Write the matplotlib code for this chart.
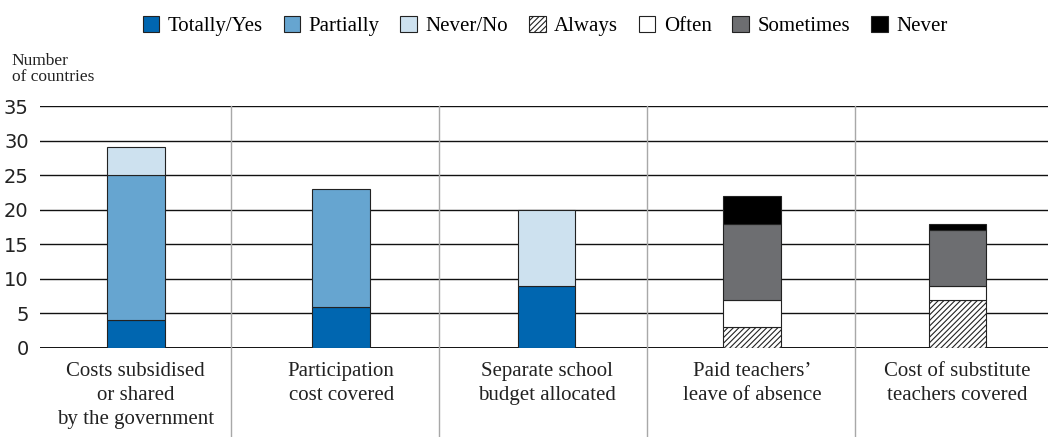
import matplotlib.pyplot as plt
from matplotlib.patches import Patch

categories = ['Costs subsidised\nor shared\nby the government',
              'Participation\ncost covered',
              'Separate school\nbudget allocated',
              "Paid teachers\u2019\nleave of absence",
              'Cost of substitute\nteachers covered']

# yes / partially / no answers (first three items)
totally_yes = [4, 6, 9, 0, 0]
partially = [21, 17, 0, 0, 0]
never_no = [4, 0, 11, 0, 0]
# frequency answers (last two items)
always = [0, 0, 0, 3, 7]
often = [0, 0, 0, 4, 2]
sometimes = [0, 0, 0, 11, 8]
never = [0, 0, 0, 4, 1]

series = [
    ('Totally/Yes', totally_yes, '#0066b0', None),
    ('Partially', partially, '#66a5d0', None),
    ('Never/No', never_no, '#cde1ef', None),
    ('Always', always, 'white', '//////'),
    ('Often', often, 'white', None),
    ('Sometimes', sometimes, '#6d6e71', None),
    ('Never', never, 'black', None),
]

plt.rcParams['hatch.linewidth'] = 0.8
fig = plt.figure(figsize=(10.48, 4.37), dpi=100)
ax = fig.add_axes([0.038, 0.2037, 0.962, 0.5537])

x = [i * 1.0 for i in range(len(categories))]
bottom = [0] * len(categories)
handles = []
for name, vals, col, hatch in series:
    for i, v in enumerate(vals):
        if v > 0:
            ax.bar(x[i], v, 0.28, bottom=bottom[i], color=col, hatch=hatch,
                   edgecolor='#222222', linewidth=0.8, zorder=3)
    bottom = [b + v for b, v in zip(bottom, vals)]
    handles.append(Patch(facecolor=col, hatch=hatch, edgecolor='#222222',
                         linewidth=0.8, label=name))

ax.set_ylim(0, 35)
ax.set_xlim(-0.467, 4.44)
ax.set_yticks(range(0, 36, 5))
for y in range(0, 36, 5):
    ax.axhline(y, color='#111111', lw=1.0 if y else 1.4, zorder=1)
for s in [0.462, 1.474, 2.49, 3.50]:
    ax.axvline(s, ymin=-0.37, ymax=1, color='#a8a8a8', lw=1.0,
               clip_on=False, zorder=1)

for sp in ax.spines.values():
    sp.set_visible(False)
ax.tick_params(axis='y', length=0, pad=8, labelsize=14, labelcolor='#222222')
ax.tick_params(axis='x', length=0, pad=10)
ax.set_xticks(x)
ax.set_xticklabels(categories, family='Liberation Serif', fontsize=15,
                   linespacing=1.35, color='#222222')

fig.text(0.011, 0.805, 'Number\nof countries', family='Liberation Serif',
         fontsize=12.5, va='bottom', ha='left', linespacing=1.05,
         color='#222222')

fig.legend(handles=handles, loc='center', bbox_to_anchor=(0.52, 0.94),
           ncol=7, frameon=False, handlelength=0.8, handleheight=0.8,
           handletextpad=0.4, columnspacing=1.0,
           prop={'family': 'Liberation Serif', 'size': 15})

fig.savefig('out.png', dpi=100)
